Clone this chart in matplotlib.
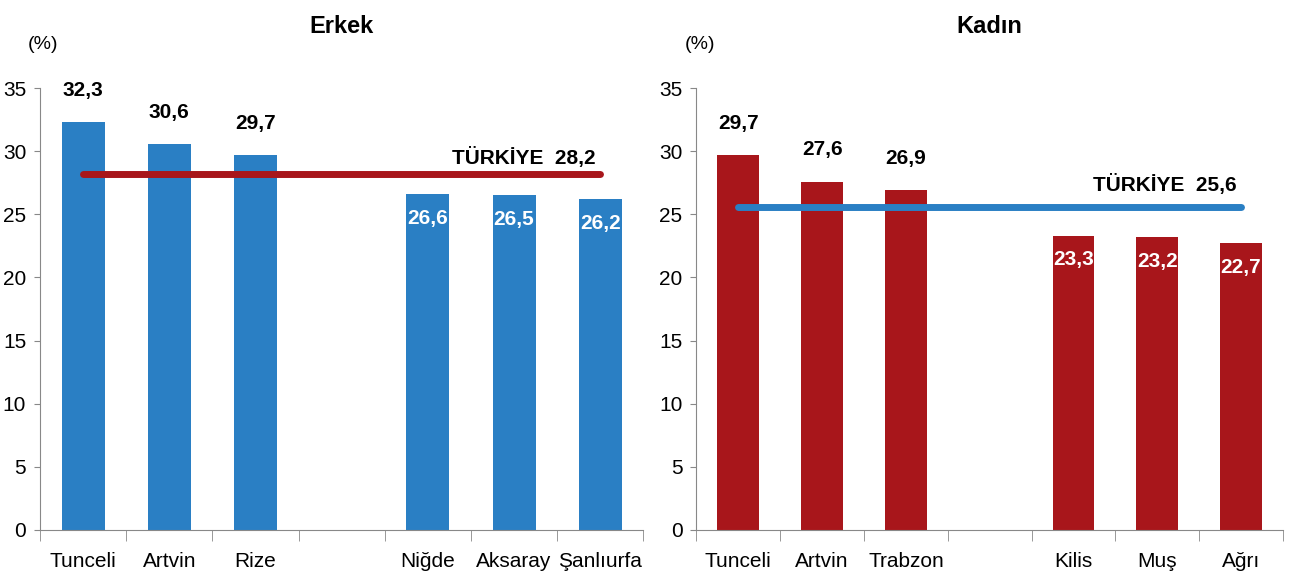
import matplotlib
matplotlib.use("Agg")
import matplotlib.pyplot as plt
from matplotlib import font_manager

# pick a narrow font if we have one
names = {f.name for f in font_manager.fontManager.ttflist}
narrow = 'Liberation Sans Narrow' if 'Liberation Sans Narrow' in names else 'Liberation Sans'
plt.rcParams['font.family'] = [narrow, 'DejaVu Sans']

# === Data ===
men_labels = ['Tunceli', 'Artvin', 'Rize', '', 'Niğde', 'Aksaray', 'Şanlıurfa']
men_values = [32.3, 30.6, 29.7, None, 26.6, 26.5, 26.2]
men_turkey = 28.2

women_labels = ['Tunceli', 'Artvin', 'Trabzon', '', 'Kilis', 'Muş', 'Ağrı']
women_values = [29.7, 27.6, 26.9, None, 23.3, 23.2, 22.7]
women_turkey = 25.6

yticks = [0, 5, 10, 15, 20, 25, 30, 35]

BLUE = '#2a7fc4'
RED = '#a8161b'


def fmt(v):
    return f"{v:.1f}".replace('.', ',')


def draw(ax, labels, values, turkey, bar_color, line_color, title, tk_off):
    xs = [i for i, v in enumerate(values) if v is not None]
    vals = [values[i] for i in xs]
    ax.bar(xs, vals, width=0.5, color=bar_color, zorder=2)
    ax.plot([0, len(values) - 1], [turkey, turkey], color=line_color,
            linewidth=5, solid_capstyle='round', zorder=3)
    ax.text(len(values) - 1 - 0.05, turkey + tk_off, f"TÜRKİYE  {fmt(turkey)}",
            ha='right', va='center', fontsize=15, fontweight='bold')

    for x, v in zip(xs, vals):
        if v > turkey:
            ax.text(x, v + 2.5, fmt(v), ha='center', va='center',
                    fontsize=15, fontweight='bold', color='black')
        else:
            ax.text(x, v - 1.9, fmt(v), ha='center', va='center',
                    fontsize=15, fontweight='bold', color='white', zorder=4)

    ax.set_xlim(-0.5, len(values) - 0.5)
    ax.set_ylim(0, 35)
    ax.set_yticks(yticks)
    ax.tick_params(axis='y', labelsize=15, length=4, color='#888888', pad=6)

    # category labels centred, ticks on category borders
    ax.set_xticks(range(len(values)))
    ax.set_xticklabels(labels, fontsize=15)
    ax.tick_params(axis='x', length=0, pad=16)
    ax.set_xticks([i - 0.5 for i in range(len(values) + 1)], minor=True)
    ax.tick_params(axis='x', which='minor', length=8, color='#888888')

    for s in ['top', 'right']:
        ax.spines[s].set_visible(False)
    ax.spines['left'].set_color('#888888')
    ax.spines['bottom'].set_color('#888888')

    ax.set_title(title, fontsize=17, fontweight='bold', pad=40)
    ax.text(-0.02, 1.08, '(%)', transform=ax.transAxes, fontsize=14,
            ha='left', va='bottom')


fig = plt.figure(figsize=(12.92, 5.86), dpi=100)
ax1 = fig.add_axes([0.031, 0.0956, 0.467, 0.754])
ax2 = fig.add_axes([0.539, 0.0956, 0.454, 0.754])

draw(ax1, men_labels, men_values, men_turkey, BLUE, RED, 'Erkek', 1.3)
draw(ax2, women_labels, women_values, women_turkey, RED, BLUE, 'Kadın', 1.8)

fig.savefig('out.png', dpi=100)
